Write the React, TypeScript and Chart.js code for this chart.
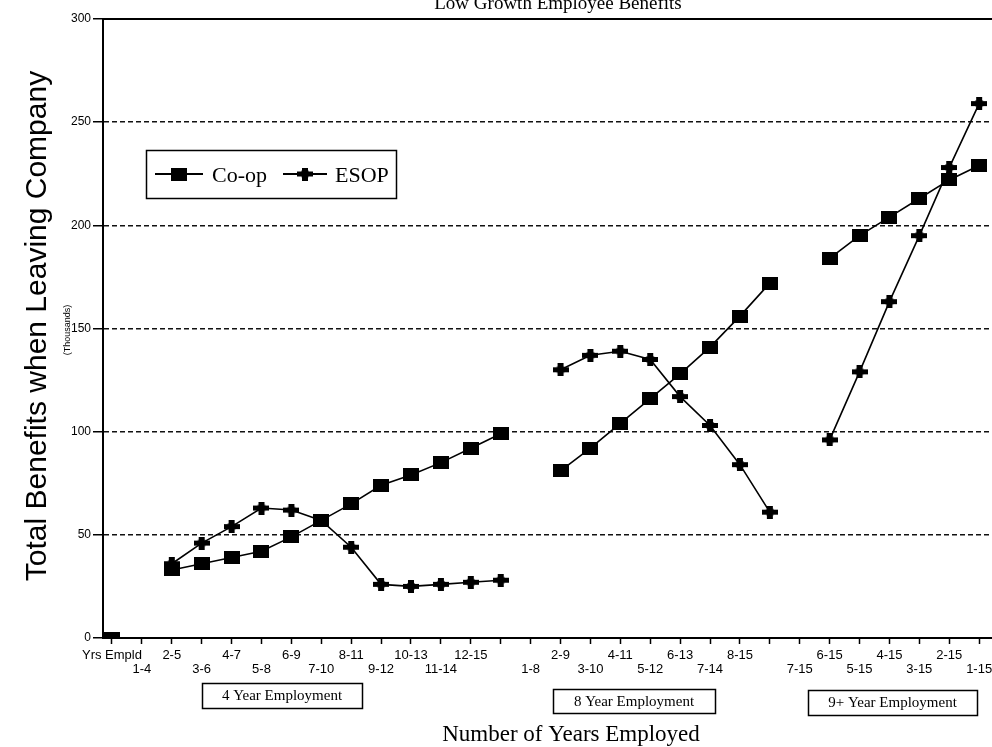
import React, { useEffect, useRef } from "react";
import { Chart, registerables } from "chart.js";

Chart.register(...registerables);

// ---- data ----
const xLabels = [
  "Yrs Empld", "1-4", "2-5", "3-6", "4-7", "5-8", "6-9", "7-10", "8-11", "9-12",
  "10-13", "11-14", "12-15", "", "1-8", "2-9", "3-10", "4-11", "5-12", "6-13",
  "7-14", "8-15", "", "7-15", "6-15", "5-15", "4-15", "3-15", "2-15", "1-15",
];
const coop: (number | null)[] = [
  0, null, 33, 36, 39, 42, 49, 57, 65, 74, 79, 85, 92, 99,
  null, 81, 92, 104, 116, 128, 141, 156, 172,
  null, 184, 195, 204, 213, 222, 229,
];
const esop: (number | null)[] = [
  null, null, 36, 46, 54, 63, 62, 57, 44, 26, 25, 26, 27, 28,
  null, 130, 137, 139, 135, 117, 103, 84, 61,
  null, 96, 129, 163, 195, 228, 259,
];
const seriesNames = ["Co-op", "ESOP"];
const groupNotes = ["4 Year Employment", "8 Year Employment", "9+ Year Employment"];
const chartTitle = "Low Growth Employee Benefits";
const xTitle = "Number of Years Employed";
const yTitle = "Total Benefits when Leaving Company";
const yUnit = "(Thousands)";
const yMin = 0;
const yMax = 300;
const yStep = 50;

// ---- markers ----
function squareMarker(): HTMLCanvasElement {
  const c = document.createElement("canvas");
  c.width = 16;
  c.height = 13;
  const g = c.getContext("2d")!;
  g.fillStyle = "#000";
  g.fillRect(0, 0, 16, 13);
  return c;
}
function crossMarker(): HTMLCanvasElement {
  const c = document.createElement("canvas");
  c.width = 16;
  c.height = 13;
  const g = c.getContext("2d")!;
  g.fillStyle = "#000";
  g.fillRect(0, 4, 16, 5);
  g.fillRect(5, 0, 6, 13);
  g.beginPath();
  g.arc(8, 6.5, 4.5, 0, Math.PI * 2);
  g.fill();
  return c;
}

// stagger rows for x labels (computed layout)
const labelRows: number[] = [];
xLabels.forEach((_, i) => {
  labelRows[i] = i === 0 ? 0 : xLabels[i - 1] === "" || labelRows[i - 1] === 0 ? 1 : 0;
});

export default function App() {
  const ref = useRef<HTMLCanvasElement | null>(null);

  useEffect(() => {
    if (!ref.current) return;
    const sq = squareMarker();
    const cr = crossMarker();

    // stretch plot area to the right edge of the canvas (the reference is cropped there)
    const stretch = {
      id: "stretch",
      afterLayout(chart: any) {
        const ca = chart.chartArea;
        const xs = chart.scales.x;
        const target = chart.width;
        ca.right = target;
        ca.width = target - ca.left;
        xs.right = target;
        xs.width = target - xs.left;
        xs.configure();
      },
    };

    const decor = {
      id: "decor",
      afterDraw(chart: any) {
        const { ctx, chartArea } = chart;
        ctx.save();
        ctx.strokeStyle = "#000";
        ctx.fillStyle = "#000";
        // solid top line at max
        ctx.lineWidth = 2;
        ctx.beginPath();
        ctx.moveTo(chartArea.left - 1, chartArea.top);
        ctx.lineTo(chartArea.right, chartArea.top);
        ctx.stroke();

        // title (cut at top)
        ctx.font = "19px 'Liberation Serif'";
        ctx.textAlign = "center";
        ctx.textBaseline = "alphabetic";
        ctx.fillText(chartTitle, 558, 9);

        // x title
        ctx.font = "23px 'Liberation Serif'";
        ctx.textBaseline = "middle";
        ctx.fillText(xTitle, 571, 735);

        // y title
        ctx.save();
        ctx.translate(38, 326);
        ctx.rotate(-Math.PI / 2);
        ctx.font = "30px 'Liberation Sans'";
        ctx.textBaseline = "middle";
        ctx.fillText(yTitle, 0, 0);
        ctx.restore();

        ctx.save();
        ctx.translate(68, 330);
        ctx.rotate(-Math.PI / 2);
        ctx.font = "9px 'Liberation Sans'";
        ctx.textBaseline = "middle";
        ctx.fillText(yUnit, 0, 0);
        ctx.restore();

        // group boxes
        const boxes = [
          [202, 683, 160, 25],
          [553, 689, 162, 24],
          [808, 690, 169, 25],
        ];
        ctx.lineWidth = 1.5;
        ctx.font = "15px 'Liberation Serif'";
        boxes.forEach((b, i) => {
          ctx.strokeRect(b[0] + 0.5, b[1] + 0.5, b[2], b[3]);
          ctx.fillText(groupNotes[i], b[0] + b[2] / 2, b[1] + b[3] / 2 + 1);
        });

        // legend
        const lx = 146, ly = 150, lw = 250, lh = 48;
        ctx.fillStyle = "#fff";
        ctx.fillRect(lx, ly, lw, lh);
        ctx.fillStyle = "#000";
        ctx.lineWidth = 1.5;
        ctx.strokeRect(lx + 0.5, ly + 0.5, lw, lh);
        const my = 174;
        ctx.lineWidth = 2;
        ctx.beginPath();
        ctx.moveTo(155, my);
        ctx.lineTo(203, my);
        ctx.moveTo(283, my);
        ctx.lineTo(327, my);
        ctx.stroke();
        ctx.drawImage(sq, 179 - sq.width / 2, my - sq.height / 2);
        ctx.drawImage(cr, 305 - cr.width / 2, my - cr.height / 2);
        ctx.font = "22px 'Liberation Serif'";
        ctx.textAlign = "left";
        ctx.textBaseline = "middle";
        ctx.fillText(seriesNames[0], 212, my + 2);
        ctx.fillText(seriesNames[1], 335, my + 2);
        ctx.restore();
      },
    };

    const chart = new Chart(ref.current, {
      type: "line",
      data: {
        datasets: [
          {
            label: seriesNames[0],
            data: coop.map((v, i) => ({ x: i, y: v })) as any,
            borderColor: "#000",
            backgroundColor: "#000",
            borderWidth: 1.6,
            pointStyle: sq as any,
            pointRadius: 8,
            tension: 0,
            spanGaps: false,
          },
          {
            label: seriesNames[1],
            data: esop.map((v, i) => ({ x: i, y: v })) as any,
            borderColor: "#000",
            backgroundColor: "#000",
            borderWidth: 1.6,
            pointStyle: cr as any,
            pointRadius: 8,
            tension: 0,
            spanGaps: false,
          },
        ],
      },
      options: {
        responsive: false,
        animation: false,
        events: [],
        layout: { padding: { top: 19, left: 0, right: 0, bottom: 0 } },
        plugins: {
          legend: { display: false },
          tooltip: { enabled: false },
          title: { display: false },
        },
        scales: {
          x: {
            type: "linear",
            min: -0.3,
            max: 29.43,
            afterBuildTicks: (scale: any) => {
              scale.ticks = xLabels.map((_, i) => ({ value: i }));
            },
            afterFit: (scale: any) => {
              scale.height = 109;
              scale.paddingLeft = 0;
              scale.paddingRight = 0;
            },
            ticks: {
              autoSkip: false,
              maxRotation: 0,
              minRotation: 0,
              padding: 4,
              color: "#000",
              font: { family: "'Liberation Sans'", size: 13, lineHeight: 1.08 },
              callback: (value: any) => {
                const i = Math.round(Number(value));
                const l = xLabels[i];
                if (!l) return "";
                return labelRows[i] === 0 ? [l] : ["", l];
              },
            },
            grid: {
              drawOnChartArea: false,
              drawTicks: true,
              tickLength: 6,
              tickWidth: 1.5,
              tickColor: "#000",
              color: "#000",
            },
            border: { display: true, color: "#000", width: 2 },
          },
          y: {
            type: "linear",
            min: yMin,
            max: yMax,
            afterFit: (scale: any) => {
              scale.width = 103;
              scale.paddingTop = 0;
              scale.paddingBottom = 0;
            },
            ticks: {
              stepSize: yStep,
              padding: 2,
              color: "#000",
              font: { family: "'Liberation Sans'", size: 12 },
            },
            grid: {
              color: (c: any) =>
                c.tick && (c.tick.value === yMin || c.tick.value === yMax) ? "rgba(0,0,0,0)" : "#111",
              lineWidth: 1.5,
              drawTicks: true,
              tickLength: 10,
              tickWidth: 1.5,
              tickColor: "#000",
            },
            border: { display: true, color: "#000", width: 2, dash: [5, 3] },
          },
        },
      },
      plugins: [stretch, decor],
    });
    return () => chart.destroy();
  }, []);

  return (
    <div
      style={{
        position: "fixed",
        left: 0,
        top: 0,
        width: 992,
        height: 747,
        background: "#fff",
        overflow: "hidden",
      }}
    >
      <canvas ref={ref} width={992} height={747} style={{ display: "block" }} />
    </div>
  );
}
